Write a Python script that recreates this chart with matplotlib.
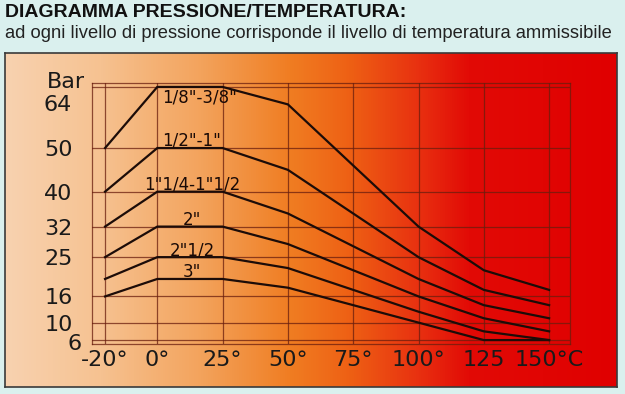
import numpy as np
import matplotlib
matplotlib.use('Agg')
import matplotlib.pyplot as plt
from matplotlib.colors import LinearSegmentedColormap

# temperature (°C) where the curves change slope
temps = [-20, 0, 25, 50, 100, 125, 150]

# admissible pressure (bar) for each pipe size
sizes = ['1/8"-3/8"', '1/2"-1"', '1"1/4-1"1/2', '2"', '2"1/2', '3"']
p_18_38 = [50, 64, 64, 60, 32, 22, 17.5]
p_12_1 = [40, 50, 50, 45, 25, 17.5, 14]
p_114_112 = [32, 40, 40, 35, 20, 14, 11]
p_2 = [25, 32, 32, 28, 16, 11, 8]
p_212 = [20, 25, 25, 22.5, 12.5, 8, 6]
p_3 = [16, 20, 20, 18, 10, 6, 6]
curves = [p_18_38, p_12_1, p_114_112, p_2, p_212, p_3]

x_ticks = [-20, 0, 25, 50, 75, 100, 125, 150]
x_labels = ['-20°', '0°', '25°', '50°', '75°', '100°', '125', '150°C']
y_ticks = [6, 10, 16, 25, 32, 40, 50, 64]

W, H = 625, 394
fig = plt.figure(figsize=(W / 100, H / 100), dpi=100)
fig.patch.set_facecolor('#daf0ee')

# coloured panel (light peach -> orange -> red)
bg = fig.add_axes([5 / W, 7 / H, 612 / W, 334 / H])
heat = LinearSegmentedColormap.from_list('heat', [
    (0.0, '#f8d2b0'), (0.155, '#f6c291'), (0.32, '#f3a35c'),
    (0.466, '#f07d22'), (0.564, '#ee6014'), (0.678, '#e83010'),
    (0.76, '#e20a06'), (1.0, '#e00000')])
bg.imshow(np.linspace(0, 1, 512)[None, :], aspect='auto', cmap=heat,
          extent=[0, 1, 0, 1])
bg.set_xticks([])
bg.set_yticks([])
for s in bg.spines.values():
    s.set_color('#3a3a3a')
    s.set_linewidth(1.2)

ax = fig.add_axes([92 / W, 50 / H, 478 / W, 261 / H])
ax.patch.set_alpha(0)
ax.set_xlim(-25, 158)
ax.set_ylim(5.1, 64.9)

grid_col = '#6a1e0e'
ax.grid(True, color=grid_col, lw=0.9, alpha=0.75)
for s in ax.spines.values():
    s.set_color(grid_col)
    s.set_alpha(0.75)
    s.set_linewidth(0.9)

for p in curves:
    ax.plot(temps, p, color='#1c0c08', lw=1.6, solid_joinstyle='miter')

tick_font = dict(family='DejaVu Sans', size=16, color='#1a1a1a')
ax.set_xticks(x_ticks, x_labels)
ax.set_yticks(y_ticks, ['' if v in (6, 64) else str(v) for v in y_ticks])
for lab in ax.get_xticklabels() + ax.get_yticklabels():
    lab.set(**tick_font)
ax.tick_params(axis='x', length=0, pad=4)
ax.tick_params(axis='y', length=0, pad=14)

# 64 sits below its line to leave room for the unit, 6 is shifted right
ax.annotate('64', (0, 64), xycoords=('axes fraction', 'data'),
            xytext=(-14.4, -13), textcoords='offset points',
            ha='right', va='center', **tick_font)
ax.annotate('Bar', (0, 64), xycoords=('axes fraction', 'data'),
            xytext=(-32.4, 3.6), textcoords='offset points',
            ha='left', va='center', **tick_font)
ax.annotate('6', (0, 6), xycoords=('axes fraction', 'data'),
            xytext=(-7.2, -3), textcoords='offset points',
            ha='right', va='center', **tick_font)

# size labels on the flat part of each curve
mid = (temps[1] + temps[2]) / 2
for i, (name, p) in enumerate(zip(sizes, curves)):
    if i == 0:
        ax.annotate(name, (mid + 3.5, p[1]), xytext=(0, -1),
                    textcoords='offset points', ha='center', va='top',
                    fontsize=12, color='#1a0a06')
    else:
        ax.annotate(name, (mid + 0.8, p[1]), xytext=(0, 1.5),
                    textcoords='offset points', ha='center', va='baseline',
                    fontsize=12, color='#1a0a06')

fig.text(5 / W, 1 - 17 / H, 'DIAGRAMMA PRESSIONE/TEMPERATURA:',
         family='Liberation Sans', weight='bold', fontsize=14,
         va='baseline', color='#111111')
fig.text(5 / W, 1 - 37.5 / H,
         'ad ogni livello di pressione corrisponde il livello di temperatura ammissibile',
         family='Liberation Sans', fontsize=13.2, va='baseline', color='#222222')

fig.savefig('out.png', dpi=100, facecolor=fig.get_facecolor())
